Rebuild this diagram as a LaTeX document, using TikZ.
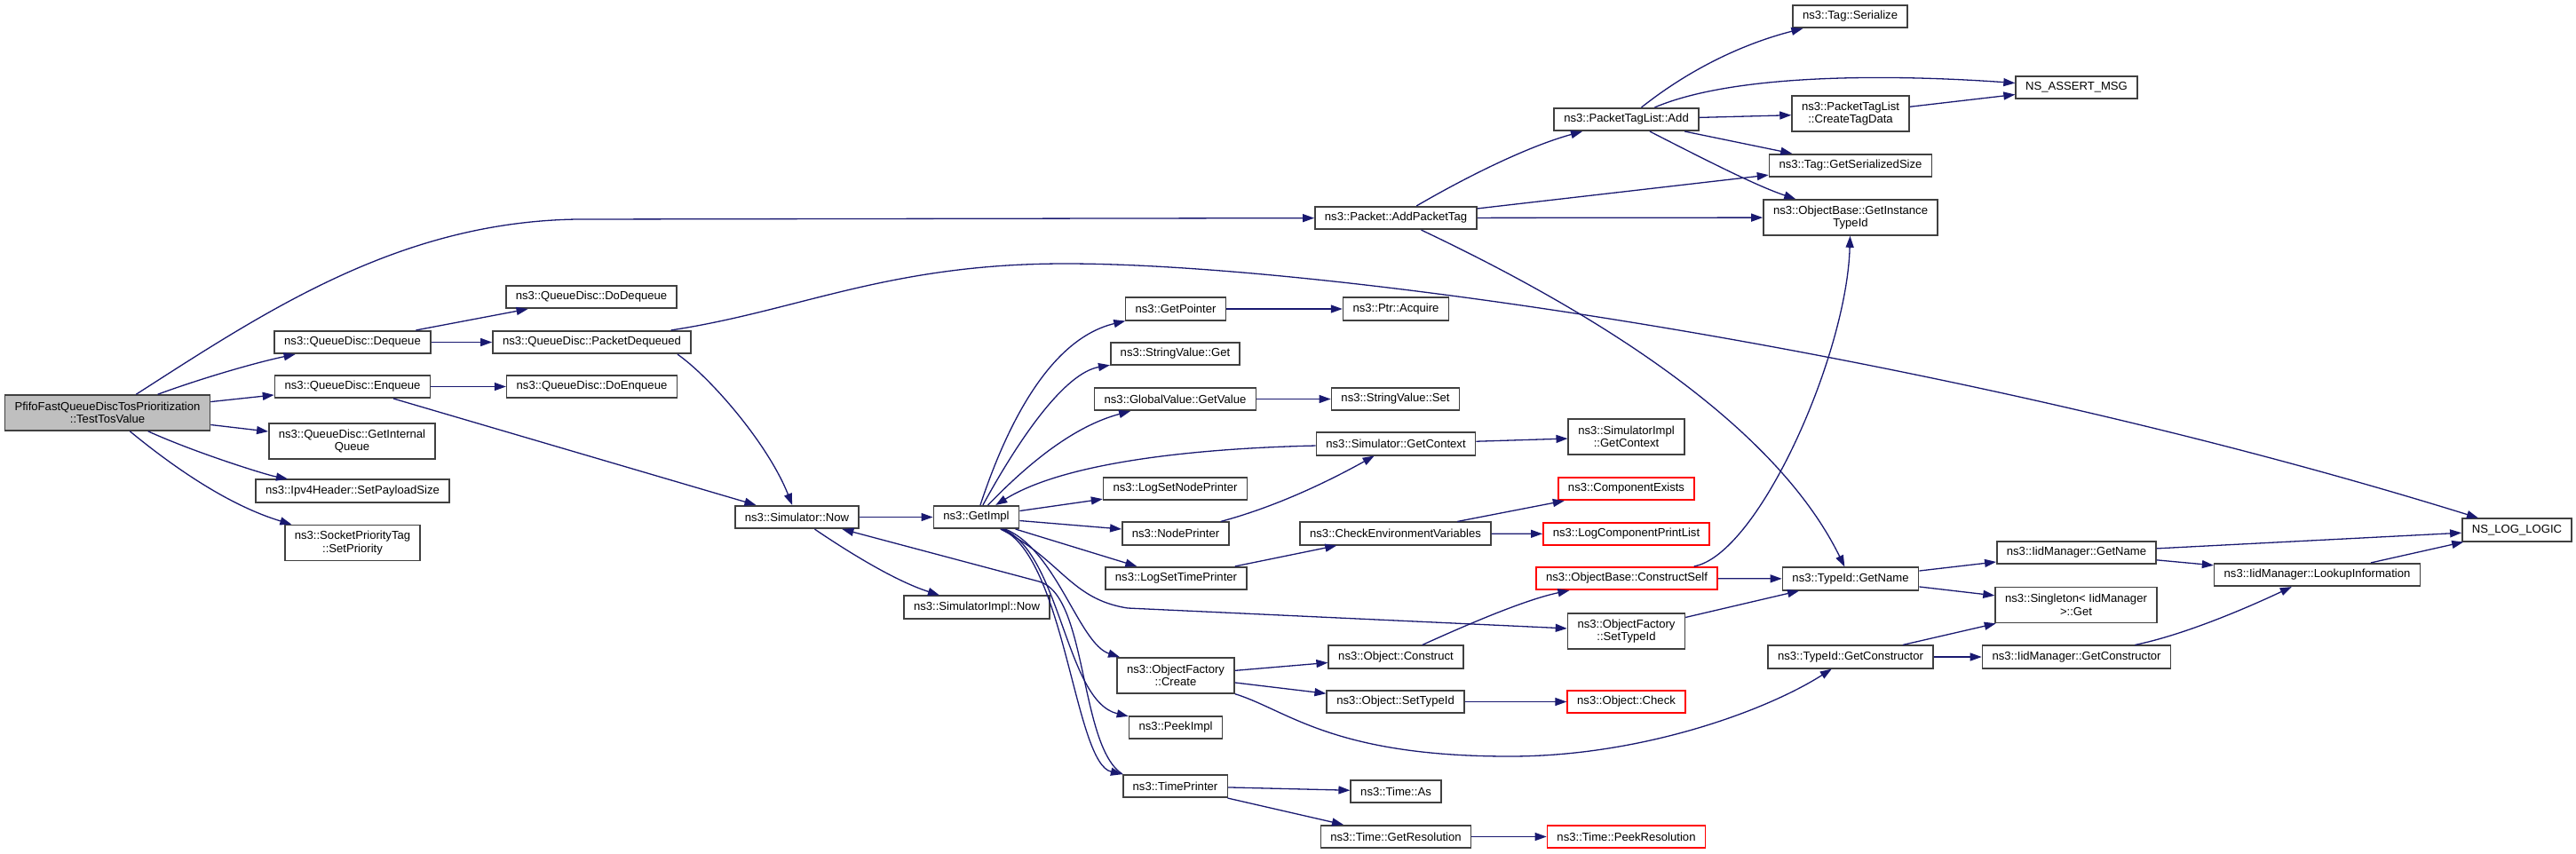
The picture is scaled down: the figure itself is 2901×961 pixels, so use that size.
\documentclass[tikz,border=0pt]{standalone}
\usepackage{fontspec}
\setmainfont{Liberation Sans}
\usepackage{tikz}
\usetikzlibrary{arrows.meta}
\definecolor{edgeblue}{HTML}{191970}
\definecolor{boxgray}{HTML}{BFBFBF}
\tikzstyle{fn}=[rectangle, draw=black!75, line width=1.6pt, fill=white, inner xsep=11pt, inner ysep=2pt, minimum height=25.5pt, align=center, font=\fontsize{13.1}{14.5}\selectfont]
\tikzstyle{fntwo}=[fn, minimum height=40pt]
\tikzstyle{fnred}=[draw=red]
\tikzstyle{fnmain}=[fill=boxgray]
\tikzstyle{callarrow}=[draw=edgeblue, line width=1.3pt, -{Triangle[length=13pt,width=9pt]}]

\begin{document}
\begin{tikzpicture}[x=1pt,y=-1pt]
	\useasboundingbox (0,0) rectangle (2901,961);
	\node[fntwo,fnmain] (tosValue) at (121,465) {PfifoFastQueueDiscTosPrioritization\\::TestTosValue};
	\node[fn] (dequeue) at (397,385.5) {ns3::QueueDisc::Dequeue};
	\node[fn] (enqueue) at (397,435.5) {ns3::QueueDisc::Enqueue};
	\node[fntwo] (getInternalQueue) at (396.5,497) {ns3::QueueDisc::GetInternal\\Queue};
	\node[fn] (setPayloadSize) at (397,553) {ns3::Ipv4Header::SetPayloadSize};
	\node[fntwo] (setPriority) at (397,611.5) {ns3::SocketPriorityTag\\::SetPriority};
	\node[fn] (doDequeue) at (666,334.5) {ns3::QueueDisc::DoDequeue};
	\node[fn] (packetDequeued) at (666.5,385.5) {ns3::QueueDisc::PacketDequeued};
	\node[fn] (doEnqueue) at (666.5,435.5) {ns3::QueueDisc::DoEnqueue};
	\node[fn] (simNow) at (897.5,582.5) {ns3::Simulator::Now};
	\node[fn] (getImpl) at (1099.5,582.5) {ns3::GetImpl};
	\node[fn] (simImplNow) at (1100,684) {ns3::SimulatorImpl::Now};
	\node[fn] (getPointer) at (1324,348) {ns3::GetPointer};
	\node[fn] (strGet) at (1323.5,398.5) {ns3::StringValue::Get};
	\node[fn] (getValue) at (1323.5,449.5) {ns3::GlobalValue::GetValue};
	\node[fn] (simGetContext) at (1572,500) {ns3::Simulator::GetContext};
	\node[fn] (logSetNodePrinter) at (1323.5,550.5) {ns3::LogSetNodePrinter};
	\node[fn] (nodePrinter) at (1324,601) {ns3::NodePrinter};
	\node[fn] (logSetTimePrinter) at (1324.5,651.5) {ns3::LogSetTimePrinter};
	\node[fntwo] (factoryCreate) at (1324,761) {ns3::ObjectFactory\\::Create};
	\node[fn] (peekImpl) at (1324,819.5) {ns3::PeekImpl};
	\node[fn] (timePrinter) at (1323.5,885.5) {ns3::TimePrinter};
	\node[fn] (ptrAcquire) at (1572,348) {ns3::Ptr::Acquire};
	\node[fn] (strSet) at (1571.5,449.5) {ns3::StringValue::Set};
	\node[fn] (checkEnv) at (1571.5,601) {ns3::CheckEnvironmentVariables};
	\node[fn] (objConstruct) at (1572,740) {ns3::Object::Construct};
	\node[fn] (objSetTypeId) at (1571.5,790.5) {ns3::Object::SetTypeId};
	\node[fn] (timeAs) at (1572,891.5) {ns3::Time::As};
	\node[fn] (getResolution) at (1572,942.5) {ns3::Time::GetResolution};
	\node[fn] (addPacketTag) at (1572,245.5) {ns3::Packet::AddPacketTag};
	\node[fntwo] (implGetContext) at (1831.5,492) {ns3::SimulatorImpl\\::GetContext};
	\node[fn,fnred] (componentExists) at (1831.5,550.5) {ns3::ComponentExists};
	\node[fn,fnred] (logComponentPrintList) at (1831.5,601.5) {ns3::LogComponentPrintList};
	\node[fn,fnred] (constructSelf) at (1832,651.5) {ns3::ObjectBase::ConstructSelf};
	\node[fntwo] (factorySetTypeId) at (1831.5,711) {ns3::ObjectFactory\\::SetTypeId};
	\node[fn,fnred] (objCheck) at (1831.5,790.5) {ns3::Object::Check};
	\node[fn,fnred] (peekResolution) at (1831.5,942.5) {ns3::Time::PeekResolution};
	\node[fn] (tagListAdd) at (1831.5,134.5) {ns3::PacketTagList::Add};
	\node[fn] (tagSerialize) at (2083.5,18.5) {ns3::Tag::Serialize};
	\node[fntwo] (createTagData) at (2084,128) {ns3::PacketTagList\\::CreateTagData};
	\node[fn] (getSerializedSize) at (2084,186.5) {ns3::Tag::GetSerializedSize};
	\node[fntwo] (getInstanceTypeId) at (2084,245) {ns3::ObjectBase::GetInstance\\TypeId};
	\node[fn] (typeIdGetName) at (2084,652) {ns3::TypeId::GetName};
	\node[fn] (getConstructor) at (2084,740) {ns3::TypeId::GetConstructor};
	\node[fn] (iidGetName) at (2338.5,622.5) {ns3::IidManager::GetName};
	\node[fntwo] (singletonGet) at (2338,681.5) {ns3::Singleton< IidManager\\ >::Get};
	\node[fn] (iidGetConstructor) at (2338.5,740) {ns3::IidManager::GetConstructor};
	\node[fn] (assertMsg) at (2338.5,98.5) {NS\_ASSERT\_MSG};
	\node[fn] (lookupInformation) at (2609.5,647.5) {ns3::IidManager::LookupInformation};
	\node[fn] (logLogic) at (2834.5,597) {NS\_LOG\_LOGIC};
	\draw[callarrow] (tosValue) .. controls (300,350) and (450,250) .. (650,247) -- (addPacketTag);
	\draw[callarrow] (tosValue) .. controls (230,425) and (290,408) .. (dequeue);
	\draw[callarrow] (tosValue) -- (enqueue);
	\draw[callarrow] (tosValue) -- (getInternalQueue);
	\draw[callarrow] (tosValue) .. controls (220,510) and (300,535) .. (setPayloadSize);
	\draw[callarrow] (tosValue) .. controls (200,530) and (260,570) .. (setPriority);
	\draw[callarrow] (dequeue) -- (doDequeue);
	\draw[callarrow] (dequeue) -- (packetDequeued);
	\draw[callarrow] (enqueue) -- (doEnqueue);
	\draw[callarrow] (enqueue) -- (simNow);
	\draw[callarrow] (packetDequeued.-8) .. controls (800,425) and (865,500) .. (simNow);
	\draw[callarrow] (packetDequeued) .. controls (900,350) and (1000,297) .. (1200,297) .. controls (1500,297) and (2200,400) .. (logLogic);
	\draw[callarrow] (simNow) -- (getImpl);
	\draw[callarrow] (simNow) .. controls (960,625) and (1010,655) .. (simImplNow);
	\draw[callarrow] (getImpl) .. controls (1140,460) and (1190,380) .. (getPointer);
	\draw[callarrow] (getImpl) .. controls (1150,490) and (1200,420) .. (strGet);
	\draw[callarrow] (getImpl) .. controls (1160,520) and (1210,480) .. (getValue);
	\draw[callarrow] (simGetContext) .. controls (1350,505) and (1200,520) .. (getImpl);
	\draw[callarrow] (getImpl) -- (logSetNodePrinter);
	\draw[callarrow] (getImpl) -- (nodePrinter);
	\draw[callarrow] (getImpl) -- (logSetTimePrinter);
	\draw[callarrow] (getImpl) .. controls (1190,620) and (1215,725) .. (factoryCreate);
	\draw[callarrow] (getImpl) .. controls (1195,625) and (1200,790) .. (peekImpl);
	\draw[callarrow] (getImpl) .. controls (1200,630) and (1210,860) .. (timePrinter);
	\draw[callarrow] (getImpl) .. controls (1195,630) and (1205,675) .. (1270,685) -- (factorySetTypeId);
	\draw[callarrow] (timePrinter.north west) .. controls (1215,840) and (1225,670) .. (1170,655) -- (simNow);
	\draw[callarrow] (getPointer) -- (ptrAcquire);
	\draw[callarrow] (getValue) -- (strSet);
	\draw[callarrow] (simGetContext) -- (implGetContext);
	\draw[callarrow] (nodePrinter) .. controls (1440,570) and (1500,540) .. (simGetContext);
	\draw[callarrow] (logSetTimePrinter) -- (checkEnv);
	\draw[callarrow] (checkEnv) -- (componentExists);
	\draw[callarrow] (checkEnv) -- (logComponentPrintList);
	\draw[callarrow] (factoryCreate) -- (objConstruct);
	\draw[callarrow] (factoryCreate) -- (objSetTypeId);
	\draw[callarrow] (factoryCreate) .. controls (1450,800) and (1500,852) .. (1700,852) .. controls (1850,852) and (1990,800) .. (getConstructor);
	\draw[callarrow] (objConstruct) .. controls (1660,700) and (1720,675) .. (constructSelf);
	\draw[callarrow] (objSetTypeId) -- (objCheck);
	\draw[callarrow] (timePrinter) -- (timeAs);
	\draw[callarrow] (timePrinter) -- (getResolution);
	\draw[callarrow] (getResolution) -- (peekResolution);
	\draw[callarrow] (addPacketTag) .. controls (1650,200) and (1720,165) .. (tagListAdd);
	\draw[callarrow] (addPacketTag) -- (getSerializedSize);
	\draw[callarrow] (addPacketTag) -- (getInstanceTypeId);
	\draw[callarrow] (addPacketTag) .. controls (1750,330) and (1990,460) .. (typeIdGetName);
	\draw[callarrow] (tagListAdd) .. controls (1900,80) and (1960,50) .. (tagSerialize);
	\draw[callarrow] (tagListAdd) .. controls (1960,80) and (2150,85) .. (assertMsg);
	\draw[callarrow] (tagListAdd) -- (createTagData);
	\draw[callarrow] (tagListAdd) -- (getSerializedSize);
	\draw[callarrow] (tagListAdd) .. controls (1930,185) and (1980,210) .. (getInstanceTypeId);
	\draw[callarrow] (createTagData) -- (assertMsg);
	\draw[callarrow] (constructSelf) .. controls (1980,625) and (2080,400) .. (getInstanceTypeId);
	\draw[callarrow] (constructSelf) -- (typeIdGetName);
	\draw[callarrow] (factorySetTypeId) -- (typeIdGetName);
	\draw[callarrow] (typeIdGetName) -- (iidGetName);
	\draw[callarrow] (typeIdGetName) -- (singletonGet);
	\draw[callarrow] (getConstructor) -- (singletonGet);
	\draw[callarrow] (getConstructor) -- (iidGetConstructor);
	\draw[callarrow] (iidGetName) -- (logLogic);
	\draw[callarrow] (iidGetName) -- (lookupInformation);
	\draw[callarrow] (iidGetConstructor) .. controls (2460,715) and (2530,685) .. (lookupInformation);
	\draw[callarrow] (lookupInformation) -- (logLogic);
\end{tikzpicture}
\end{document}
